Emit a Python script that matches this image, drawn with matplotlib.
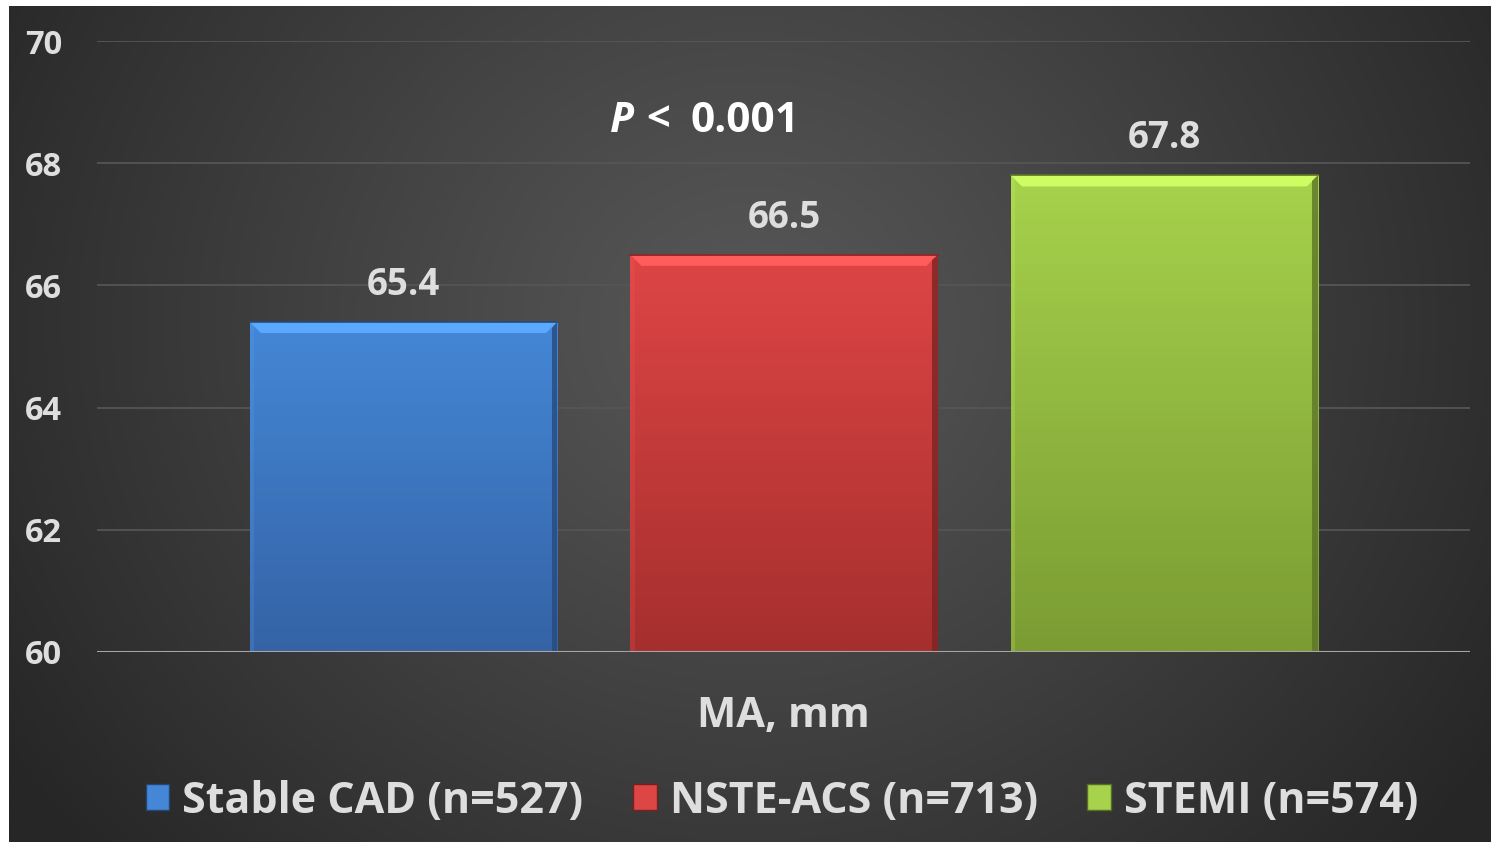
import numpy as np
import matplotlib
matplotlib.use("Agg")
import matplotlib.pyplot as plt
from matplotlib.patches import Patch, Polygon
from matplotlib.colors import to_rgb

# Data
groups = ["Stable CAD (n=527)", "NSTE-ACS (n=713)", "STEMI (n=574)"]
ma_values = [65.4, 66.5, 67.8]
y_ticks = [60, 62, 64, 66, 68, 70]
p_sign = "<"
p_value = "0.001"
axis_title = "MA, mm"

# Styling
top_colors = ["#4487d6", "#de4545", "#a6d24c"]
bottom_colors = ["#3563a6", "#a62f2e", "#7b9c33"]
text_color = "#dedede"
FONT = "Open Sans"

W, H = 1491, 842
fig = plt.figure(figsize=(W / 100, H / 100), dpi=100, facecolor="white")

# Radial dark backdrop (small white border on top and left)
bg = fig.add_axes([9 / W, 0, 1 - 9 / W, 1 - 6 / H])
bg.set_axis_off()
yy, xx = np.mgrid[0:400, 0:700]
cx, cy = 0.50, 0.62
r = np.sqrt(((xx / 699) - cx) ** 2 + (((yy / 399) - (1 - cy)) * 0.62) ** 2)
r = np.clip(r / 0.60, 0, 1)
c_in, c_out = np.array(to_rgb("#575757")), np.array(to_rgb("#262626"))
img = c_in[None, None, :] * (1 - r[..., None] ** 1.1) + c_out[None, None, :] * (r[..., None] ** 1.1)
bg.imshow(img, extent=[0, 1, 0, 1], aspect="auto", origin="upper")
bg.set_xlim(0, 1)
bg.set_ylim(0, 1)

ax = fig.add_axes([97 / W, 1 - 652 / H, (1470 - 97) / W, (652 - 41) / H])
ax.set_facecolor("none")
for s in ax.spines.values():
    s.set_visible(False)

x = np.arange(len(groups))
bar_w = 0.807
ymin, ymax = 60, 70
ax.set_xlim(-0.8055, 2.803)
ax.set_ylim(ymin, ymax)

ax.set_yticks(y_ticks)
ax.set_yticklabels([str(t) for t in y_ticks], fontfamily=FONT, fontweight="bold",
                   fontsize=23.5, color=text_color)
ax.tick_params(axis="y", length=0, pad=25)
ax.set_xticks([])
for t in y_ticks[1:]:
    ax.axhline(t, color="#555555", lw=1.3, zorder=0)

px_per_x = 380.5
px_per_y = 61.1
for xi, v, ct, cb in zip(x, ma_values, top_colors, bottom_colors):
    x0, x1 = xi - bar_w / 2, xi + bar_w / 2
    t = np.linspace(0, 1, 64)[:, None]
    grad = np.array(to_rgb(ct))[None, None, :] * (1 - t[..., None]) + \
        np.array(to_rgb(cb))[None, None, :] * t[..., None]
    grad = grad.repeat(4, axis=1)
    ax.imshow(grad, extent=[x0, x1, ymin, v], aspect="auto", origin="upper", zorder=2)
    # bevel highlights
    dx, dy = 11 / px_per_x, 11 / px_per_y
    light = tuple(min(1, c * 1.15 + 0.05) for c in to_rgb(ct))
    ax.add_patch(Polygon([[x0, v], [x1, v], [x1 - dx, v - dy], [x0 + dx, v - dy]],
                         closed=True, fc=light, ec="none", zorder=3))
    dark = tuple(c * 0.75 for c in to_rgb(cb))
    ax.add_patch(Polygon([[x1, v], [x1, ymin], [x1 - dx * 0.5, ymin], [x1 - dx * 0.5, v - dy * 0.5]],
                         closed=True, fc=dark, ec="none", alpha=0.8, zorder=3))
    ax.add_patch(Polygon([[x0, v], [x0, ymin], [x0 + dx * 0.4, ymin], [x0 + dx * 0.4, v - dy * 0.4]],
                         closed=True, fc=light, ec="none", alpha=0.2, zorder=3))
    ax.plot([x0, x1], [v, v], color=dark, lw=1.2, zorder=4)
    ax.annotate(f"{v:.1f}", (xi, v), xytext=(0, 13), textcoords="offset points",
                ha="center", va="bottom", fontfamily=FONT, fontweight="bold",
                fontsize=26.5, color=text_color, zorder=5)

ax.axhline(ymin, color="#a6a6a6", lw=2.2, zorder=6)

# p-value annotation
py = 1 - 121 / H
fig.text(634 / W, py, "P", fontfamily=FONT, fontweight="bold", style="italic",
         fontsize=30, color="white", ha="right", va="center")
fig.text(658 / W, py, p_sign, fontfamily=FONT, fontweight="bold",
         fontsize=30, color="white", ha="center", va="center")
fig.text(690 / W, py, p_value, fontfamily=FONT, fontweight="bold",
         fontsize=30.5, color="white", ha="left", va="center")

fig.text(783 / W, 1 - 716 / H, axis_title, fontfamily=FONT, fontweight="bold",
         fontsize=30, color=text_color, ha="center", va="center")

handles = [Patch(facecolor=c, edgecolor=tuple(k * 0.7 for k in to_rgb(b)), lw=1)
           for c, b in zip(top_colors, bottom_colors)]
leg = fig.legend(handles, groups, loc="center", bbox_to_anchor=(782 / W, 1 - 801 / H),
                 ncol=3, frameon=False, handlelength=0.55, handleheight=0.55,
                 handletextpad=0.3, columnspacing=1.15,
                 prop={"family": FONT, "weight": "bold", "size": 31})
for txt in leg.get_texts():
    txt.set_color(text_color)

fig.savefig("out.png", dpi=100, facecolor="white")
